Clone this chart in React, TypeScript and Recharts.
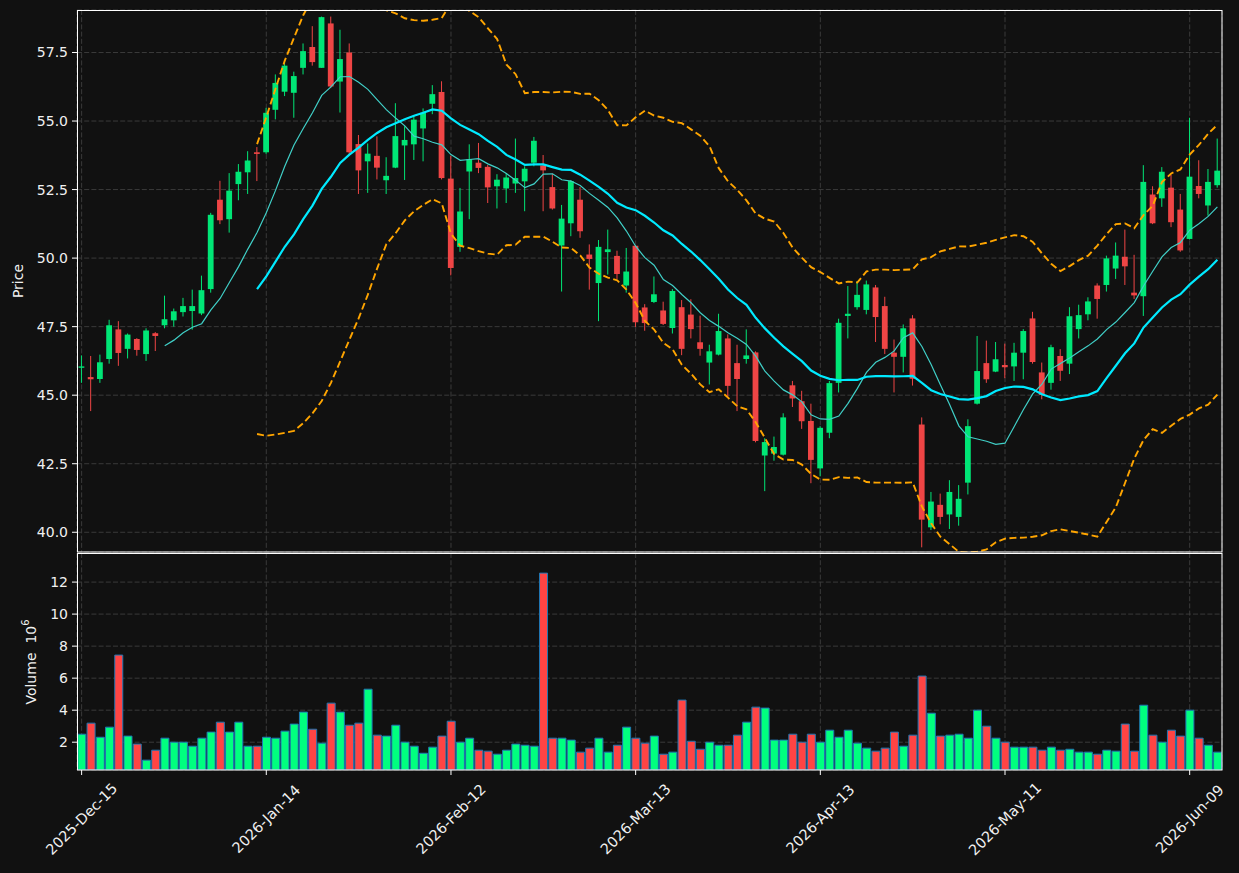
import React from 'react';
import { ComposedChart, BarChart, Bar, Line, XAxis, YAxis, CartesianGrid, Cell } from 'recharts';

// ---- data ----
const tickIndex = [0, 20, 40, 60, 80, 100, 120];
const tickLabels = ['2025-Dec-15', '2026-Jan-14', '2026-Feb-12', '2026-Mar-13', '2026-Apr-13', '2026-May-11', '2026-Jun-09'];

const opens = [
  46.0, 45.66, 45.59, 46.32, 47.4, 46.69, 47.05, 46.5, 47.26, 47.55,
  47.73, 48.03, 48.07, 47.98, 48.87, 52.13, 51.42, 52.7, 53.13, 53.86,
  53.86, 55.41, 56.07, 56.03, 56.94, 57.7, 56.94, 58.56, 56.44, 57.5,
  54.16, 53.53, 53.73, 52.84, 53.3, 54.11, 54.15, 54.73, 55.63, 56.06,
  52.9, 50.41, 53.16, 53.48, 53.33, 52.62, 52.54, 52.72, 52.8, 53.48,
  53.38, 52.59, 50.46, 51.27, 52.13, 50.13, 49.09, 50.22, 50.08, 49.0,
  50.45, 48.2, 48.4, 48.09, 47.45, 48.21, 47.94, 46.93, 46.19, 46.48,
  47.07, 46.17, 46.32, 46.56, 42.8, 42.87, 42.83, 45.36, 44.78, 44.06,
  42.33, 43.63, 45.45, 47.89, 48.21, 48.11, 48.93, 48.25, 46.55, 46.4,
  47.8, 43.93, 40.18, 41.0, 40.65, 40.56, 41.81, 44.69, 46.17, 45.86,
  46.1, 46.05, 46.55, 47.8, 45.83, 45.45, 46.43, 46.15, 47.41, 47.95,
  49.0, 49.02, 49.62, 50.05, 48.74, 48.61, 52.32, 52.18, 52.57, 51.77,
  50.7, 52.63, 51.92, 52.66,
];
const highs = [
  46.45, 46.43, 46.48, 47.75, 47.7, 47.25, 47.08, 47.44, 47.3, 48.63,
  48.16, 48.55, 48.85, 49.36, 51.65, 52.82, 53.1, 53.43, 53.9, 54.05,
  55.48, 56.7, 57.17, 56.8, 57.83, 58.46, 58.81, 58.81, 58.33, 57.83,
  54.49, 54.18, 54.44, 53.68, 55.65, 54.81, 55.19, 55.46, 56.31, 56.45,
  53.73, 52.56, 54.15, 54.2, 53.4, 53.06, 53.1, 54.36, 53.35, 54.42,
  53.76, 53.08, 51.94, 52.85, 52.59, 50.5, 50.66, 51.04, 50.27, 50.37,
  50.47, 48.32, 49.33, 48.41, 48.87, 48.47, 48.5, 47.9, 46.84, 47.97,
  47.22, 46.84, 47.4, 46.6, 43.43, 43.49, 44.34, 45.52, 45.16, 44.69,
  43.87, 45.52, 47.79, 48.98, 49.16, 49.18, 49.02, 48.59, 47.03, 47.58,
  47.92, 44.19, 41.47, 41.41, 41.9, 41.72, 44.12, 47.16, 46.99, 46.94,
  46.88, 46.91, 47.41, 48.04, 46.19, 46.84, 46.68, 48.21, 48.3, 48.57,
  49.08, 50.09, 50.57, 51.04, 50.12, 53.39, 52.62, 53.32, 53.04, 52.34,
  55.12, 53.57, 53.25, 54.36,
];
const lows = [
  45.45, 44.42, 45.45, 46.15, 46.07, 46.34, 46.44, 46.25, 46.61, 47.44,
  47.5, 47.87, 47.39, 47.92, 48.74, 51.24, 50.93, 52.11, 52.34, 52.81,
  53.8, 55.06, 55.91, 55.12, 56.7, 57.02, 56.94, 56.2, 55.31, 53.8,
  52.34, 52.38, 52.87, 52.34, 53.28, 52.85, 53.58, 53.53, 55.25, 52.87,
  49.37, 50.23, 51.42, 53.1, 52.01, 51.81, 52.01, 52.38, 51.71, 53.35,
  51.71, 51.77, 48.78, 50.8, 50.74, 48.85, 47.7, 49.4, 49.24, 48.74,
  47.49, 47.35, 48.36, 47.56, 47.25, 46.46, 47.07, 46.44, 45.39, 46.45,
  44.92, 44.42, 46.15, 43.28, 41.5, 42.61, 42.8, 44.57, 43.77, 41.79,
  42.04, 43.43, 45.1, 47.07, 48.12, 47.95, 46.94, 46.5, 45.1, 45.83,
  45.35, 39.45, 40.08, 40.29, 40.12, 40.24, 41.38, 44.66, 45.45, 45.84,
  45.62, 45.52, 45.58, 46.15, 44.85, 45.2, 45.52, 45.77, 47.07, 47.73,
  47.79, 48.78, 49.24, 49.02, 48.51, 47.89, 51.24, 51.87, 51.13, 50.23,
  50.68, 52.18, 51.55, 52.57,
];
const closes = [
  46.05, 45.58, 46.2, 47.55, 46.54, 47.21, 46.65, 47.36, 47.16, 47.77,
  48.06, 48.25, 48.25, 48.83, 51.58, 51.38, 52.46, 53.15, 53.56, 53.8,
  55.3, 56.39, 57.02, 56.64, 57.55, 57.15, 58.79, 56.26, 57.26, 53.86,
  53.2, 53.81, 53.3, 53.0, 54.45, 54.31, 55.05, 55.3, 55.98, 52.92,
  49.64, 51.7, 53.61, 53.29, 52.58, 52.86, 52.94, 52.92, 53.26, 54.28,
  53.2, 51.81, 51.44, 52.81, 50.98, 49.97, 50.41, 50.32, 49.42, 49.51,
  47.66, 47.63, 48.68, 47.6, 48.8, 46.69, 47.41, 46.69, 46.6, 47.34,
  45.34, 45.59, 46.45, 43.33, 43.29, 43.11, 44.19, 44.88, 44.05, 42.64,
  43.81, 45.44, 47.64, 47.97, 48.66, 49.04, 47.85, 46.69, 46.4, 47.44,
  45.6, 40.46, 41.12, 40.56, 41.47, 41.22, 43.87, 45.88, 45.58, 46.31,
  46.02, 46.55, 47.34, 46.21, 45.01, 46.75, 45.89, 47.88, 47.92, 48.42,
  48.51, 49.99, 50.09, 49.7, 48.64, 52.78, 51.27, 53.15, 51.31, 50.28,
  52.97, 52.34, 52.78, 53.19,
];
// volume in millions
const volumes = [
  2.5, 3.19, 2.31, 2.94, 7.44, 2.38, 1.88, 0.88, 1.5, 2.25,
  2.0, 2.0, 1.75, 2.25, 2.63, 3.25, 2.63, 3.25, 1.75, 1.75,
  2.31, 2.25, 2.69, 3.13, 3.88, 2.81, 1.94, 4.44, 3.88, 3.06,
  3.19, 5.31, 2.44, 2.38, 3.06, 2.0, 1.75, 1.31, 1.69, 2.38,
  3.31, 2.0, 2.25, 1.5, 1.44, 1.25, 1.5, 1.88, 1.81, 1.75,
  12.56, 2.25, 2.25, 2.13, 1.38, 1.63, 2.25, 1.38, 1.81, 2.94,
  2.25, 1.94, 2.38, 1.25, 1.38, 4.63, 2.06, 1.56, 2.0, 1.81,
  1.81, 2.44, 3.25, 4.19, 4.13, 2.13, 2.13, 2.5, 2.0, 2.5,
  2.0, 2.75, 2.31, 2.75, 1.94, 1.63, 1.44, 1.63, 2.63, 1.75,
  2.44, 6.13, 3.81, 2.38, 2.44, 2.5, 2.25, 4.0, 3.0, 2.25,
  2.0, 1.69, 1.69, 1.69, 1.5, 1.69, 1.5, 1.56, 1.38, 1.38,
  1.25, 1.5, 1.44, 3.13, 1.44, 4.31, 2.44, 2.0, 2.75, 2.38,
  4.0, 2.25, 1.81, 1.38,
];

const priceTicks = [40, 42.5, 45, 47.5, 50, 52.5, 55, 57.5];
const volumeTicks = [2, 4, 6, 8, 10, 12];

// ---- indicators derived from the closes (moving averages and Bollinger bands) ----
const sma = (arr: number[], n: number) =>
  arr.map((_, i) => (i < n - 1 ? null : arr.slice(i - n + 1, i + 1).reduce((a, b) => a + b, 0) / n));
const band = (arr: number[], n: number, k: number) =>
  arr.map((_, i) => {
    if (i < n - 1) return null;
    const w = arr.slice(i - n + 1, i + 1);
    const m = w.reduce((a, b) => a + b, 0) / n;
    const sd = Math.sqrt(w.reduce((a, b) => a + (b - m) * (b - m), 0) / n);
    return m + k * sd;
  });

const ma10 = sma(closes, 10);
const ma20 = sma(closes, 20);
const bbUpper = band(closes, 20, 2);
const bbLower = band(closes, 20, -2);

const rows = closes.map((c, i) => ({
  i,
  o: opens[i],
  h: highs[i],
  l: lows[i],
  c,
  range: [lows[i], highs[i]],
  v: volumes[i],
  ma10: ma10[i],
  ma20: ma20[i],
  bbU: bbUpper[i],
  bbL: bbLower[i],
}));

const volMin = 0.3 * Math.min(...volumes);
const volMax = 1.1 * Math.max(...volumes);

// ---- styles ----
const W = 1239;
const H = 873;
const BG = '#111111';
const UP = '#00e676';
const DOWN = '#ef4545';
const VUP = '#00ff7f';
const VDOWN = '#ff4444';
const GRID = '#3a3a3a';
const TXT = '#f0f0f0';
const FONT = 'DejaVu Sans';

const Candle = (props: any) => {
  const { x, y, width, height, payload } = props;
  if (!payload || x == null || y == null) return null;
  const { o, h, l, c } = payload;
  const top = Math.min(y, y + height);
  const hh = Math.abs(height);
  const k = h > l ? hh / (h - l) : 0;
  const yOf = (v: number) => top + (h - v) * k;
  const cx = x + width / 2;
  const color = c >= o ? UP : DOWN;
  const bw = 5.8;
  const bTop = yOf(Math.max(o, c));
  const bBot = yOf(Math.min(o, c));
  return (
    <g>
      <line x1={cx} x2={cx} y1={top} y2={top + hh} stroke={color} strokeWidth={1} />
      <rect x={cx - bw / 2} y={bTop} width={bw} height={Math.max(bBot - bTop, 1.2)} fill={color} />
    </g>
  );
};

const DateTick = (props: any) => {
  const { x, y, payload } = props;
  const k = tickIndex.indexOf(Number(payload.value));
  if (k < 0) return null;
  const cy = y + 42;
  return (
    <text
      x={x}
      y={cy}
      transform={`rotate(-45 ${x} ${cy})`}
      textAnchor="middle"
      dominantBaseline="central"
      fill={TXT}
      fontSize={14.5}
      fontFamily={FONT}
    >
      {tickLabels[k]}
    </text>
  );
};

export default function App() {
  return (
    <div style={{ position: 'fixed', left: 0, top: 0, width: W, height: H, background: BG, fontFamily: FONT }}>
      <div style={{ position: 'absolute', left: 0, top: 0 }}>
        <ComposedChart width={W} height={552} data={rows} margin={{ top: 10, right: 17, bottom: 0, left: 0 }}>
          <CartesianGrid stroke={GRID} strokeDasharray="5 2.2" />
          <XAxis dataKey="i" type="category" hide interval={19} />
          <YAxis
            domain={[39.28, 59.05]}
            allowDataOverflow
            ticks={priceTicks}
            width={77}
            axisLine={false}
            tickLine={{ stroke: '#ffffff' }}
            tickSize={5}
            tickMargin={4}
            tick={{ fill: TXT, fontSize: 14, fontFamily: FONT }}
            tickFormatter={(v: number) => v.toFixed(1)}
          />
          <Bar dataKey="range" shape={<Candle />} isAnimationActive={false} />
          <Line dataKey="bbU" stroke="#ffa500" strokeWidth={1.9} strokeDasharray="7 3.5" dot={false} isAnimationActive={false} type="linear" />
          <Line dataKey="bbL" stroke="#ffa500" strokeWidth={1.9} strokeDasharray="7 3.5" dot={false} isAnimationActive={false} type="linear" />
          <Line dataKey="ma10" stroke="#40cfc7" strokeWidth={1.2} dot={false} isAnimationActive={false} type="linear" />
          <Line dataKey="ma20" stroke="#00eaff" strokeWidth={2.2} dot={false} isAnimationActive={false} type="linear" />
        </ComposedChart>
      </div>
      <div style={{ position: 'absolute', left: 0, top: 552 }}>
        <BarChart width={W} height={321} data={rows} margin={{ top: 1, right: 17, bottom: 0, left: 0 }} barCategoryGap="9%">
          <CartesianGrid stroke={GRID} strokeDasharray="5 2.2" />
          <XAxis
            dataKey="i"
            type="category"
            interval={19}
            height={103}
            axisLine={false}
            tickLine={{ stroke: '#ffffff' }}
            tickSize={5}
            tickMargin={2}
            tick={<DateTick />}
          />
          <YAxis
            domain={[volMin, volMax]}
            allowDataOverflow
            ticks={volumeTicks}
            width={77}
            axisLine={false}
            tickLine={{ stroke: '#ffffff' }}
            tickSize={5}
            tickMargin={4}
            tick={{ fill: TXT, fontSize: 14, fontFamily: FONT }}
          />
          <Bar dataKey="v" stroke="#1f77b4" strokeWidth={1} isAnimationActive={false}>
            {rows.map((r) => (
              <Cell key={r.i} fill={r.c >= r.o ? VUP : VDOWN} />
            ))}
          </Bar>
        </BarChart>
      </div>
      <svg width={W} height={H} style={{ position: 'absolute', left: 0, top: 0, pointerEvents: 'none' }}>
        <rect x={77.5} y={10.5} width={1144.5} height={541.5} fill="none" stroke="#ffffff" strokeWidth={1} />
        <rect x={77.5} y={553.5} width={1144.5} height={216.5} fill="none" stroke="#ffffff" strokeWidth={1} />
        <text
          x={18}
          y={281}
          transform="rotate(-90 18 281)"
          textAnchor="middle"
          dominantBaseline="central"
          fill={TXT}
          fontSize={14}
          fontFamily={FONT}
        >
          Price
        </text>
        <text
          x={31}
          y={662}
          transform="rotate(-90 31 662)"
          textAnchor="middle"
          dominantBaseline="central"
          fill={TXT}
          fontSize={14}
          fontFamily={FONT}
        >
          {'Volume\u00a0\u00a010'}
          <tspan dy={-6} fontSize={10}>
            6
          </tspan>
        </text>
      </svg>
    </div>
  );
}
